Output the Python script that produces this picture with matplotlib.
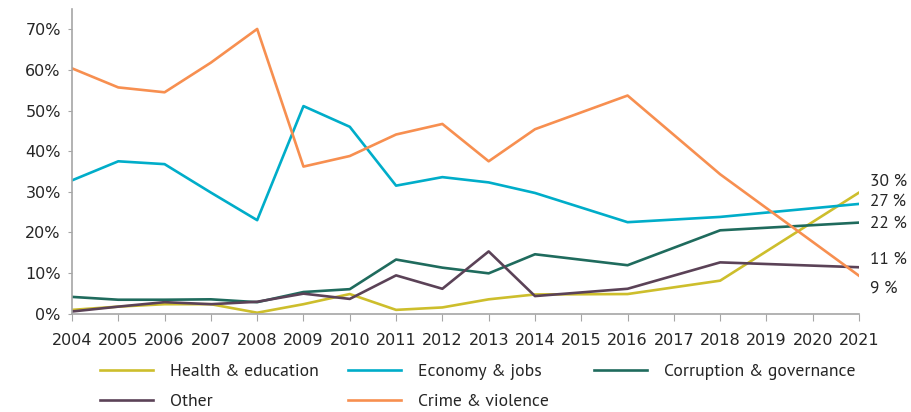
import numpy as np
import matplotlib.pyplot as plt

# survey years that have data; the axis shows every year 2004-2021
years = [2004, 2005, 2006, 2007, 2008, 2009, 2010, 2011, 2012, 2013, 2014, 2016, 2018, 2021]
all_years = list(range(2004, 2022))

health = [0.9, 1.7, 2.3, 2.3, 0.2, 2.3, 4.8, 0.9, 1.5, 3.5, 4.7, 4.8, 8.1, 29.8]
economy = [32.8, 37.5, 36.8, 29.8, 23.0, 51.1, 46.0, 31.5, 33.6, 32.3, 29.7, 22.5, 23.8, 27.0]
corruption = [4.1, 3.4, 3.4, 3.5, 2.8, 5.3, 6.0, 13.3, 11.3, 9.9, 14.6, 11.9, 20.5, 22.4]
other = [0.5, 1.7, 2.8, 2.3, 2.9, 4.9, 3.6, 9.4, 6.1, 15.3, 4.3, 6.1, 12.6, 11.4]
crime = [60.4, 55.7, 54.5, 61.8, 70.1, 36.2, 38.8, 44.1, 46.7, 37.5, 45.4, 53.7, 34.3, 9.3]

series = {
    "Health & education": (health, "#CDBE2C"),
    "Economy & jobs": (economy, "#00ADC9"),
    "Corruption & governance": (corruption, "#1F6B5D"),
    "Other": (other, "#5B4257"),
    "Crime & violence": (crime, "#F78F50"),
}
end_labels = ["30 %", "27 %", "22 %", "11 %", "9 %"]
end_label_pos = [32.5, 27.5, 22.0, 13.3, 6.2]

label_font = ["PT Sans", "DejaVu Sans"]

fig = plt.figure(figsize=(9.11, 4.12), dpi=100)
ax = fig.add_axes([0.079, 0.239, 0.864, 0.739])

lines = {}
for name, (vals, col) in series.items():
    lines[name], = ax.plot(years, vals, color=col, lw=1.9, label=name)

ax.set_xlim(2004, 2021)
ax.set_ylim(0, 75)
ax.set_xticks(all_years)
ax.set_xticklabels([str(y) for y in all_years])
ax.set_yticks(np.arange(0, 71, 10))
ax.set_yticklabels(["%d%%" % v for v in range(0, 71, 10)])
ax.tick_params(axis="both", colors="#A6A6A6", labelcolor="#262626", labelsize=11.5)
ax.tick_params(axis="x", length=5, pad=9)
ax.tick_params(axis="y", length=3, pad=5)

for s in ["top", "right"]:
    ax.spines[s].set_visible(False)
for s in ["left", "bottom"]:
    ax.spines[s].set_color("#A6A6A6")
    ax.spines[s].set_linewidth(1.2)

for txt, y in zip(end_labels, end_label_pos):
    ax.text(2021.24, y, txt, fontsize=12.5, color="#262626", family=label_font,
            va="center", ha="left", clip_on=False)

# one legend per column so each column starts where the reference has it
legend_cols = [["Health & education", "Other"],
               ["Economy & jobs", "Crime & violence"],
               ["Corruption & governance"]]
col_x = [100, 348, 594]
for names, x in zip(legend_cols, col_x):
    leg = fig.legend([lines[n] for n in names], names, loc="upper left",
                     bbox_to_anchor=(x / 911, 1 - 364 / 412), frameon=False,
                     handlelength=3.0, handletextpad=0.95, labelspacing=0.75,
                     borderpad=0, borderaxespad=0,
                     prop={"family": label_font, "size": 12.7})
    for t in leg.get_texts():
        t.set_color("#262626")

fig.savefig("out.png", dpi=100)
